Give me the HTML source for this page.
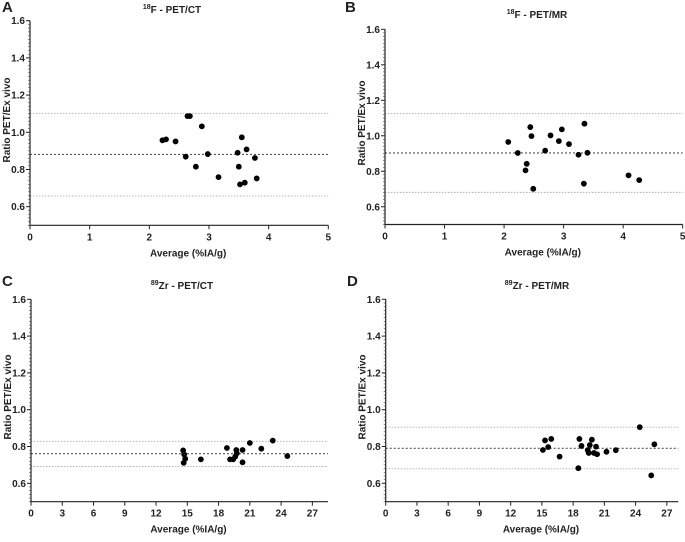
<!DOCTYPE html>
<html><head><meta charset="utf-8"><style>
body{margin:0;background:#fff;}
svg text{font-family:"Liberation Sans",Arial,sans-serif;font-weight:bold;fill:#222;}
</style></head><body>
<svg id="c" width="685" height="537" viewBox="0 0 685 537" xmlns="http://www.w3.org/2000/svg"></svg>
<script>
const xA=[2.22,2.28,2.44,2.61,2.64,2.68,2.78,2.88,2.98,3.16,3.48,3.50,3.55,3.52,3.60,3.63,3.77,3.80];
const yA=[0.957,0.962,0.951,0.869,1.087,1.087,0.815,1.032,0.883,0.759,0.890,0.815,0.973,0.720,0.729,0.908,0.862,0.752];
const linesA=[1.102,0.881,0.657];
const xB=[2.07,2.23,2.38,2.36,2.44,2.46,2.49,2.69,2.78,2.92,2.97,3.09,3.25,3.34,3.35,3.40,4.09,4.27];
const yB=[0.965,0.903,0.842,0.805,1.049,0.998,0.701,0.916,1.002,0.970,1.036,0.953,0.893,0.730,1.068,0.904,0.777,0.750];
const linesB=[1.126,0.903,0.681];
const xC=[14.6,14.7,14.8,14.65,16.3,18.8,19.1,19.4,19.6,19.7,19.75,20.3,20.3,21.0,22.1,23.2,24.6];
const yC=[0.779,0.757,0.733,0.711,0.730,0.792,0.730,0.730,0.745,0.781,0.763,0.781,0.714,0.819,0.788,0.832,0.748];
const linesC=[0.828,0.761,0.691];
const xD=[15.1,15.3,15.6,15.9,16.7,18.5,18.6,18.8,19.4,19.5,19.6,19.8,20.0,20.2,20.3,21.2,22.1,24.4,25.5,25.8];
const yD=[0.781,0.833,0.797,0.841,0.745,0.682,0.841,0.803,0.780,0.765,0.808,0.837,0.765,0.799,0.758,0.771,0.780,0.905,0.643,0.812];
const linesD=[0.905,0.790,0.679];
const yTicks=[0.6,0.8,1.0,1.2,1.4,1.6];
const xTicksF=[0,1,2,3,4,5];
const xTicksZ=[0,3,6,9,12,15,18,21,24,27];

const svg=document.getElementById('c');
const NS='http://www.w3.org/2000/svg';
function mk(tag,attrs,parent){const e=document.createElementNS(NS,tag);for(const k in attrs)e.setAttribute(k,attrs[k]);(parent||svg).appendChild(e);return e;}
function txt(s,attrs,parent){const e=mk('text',attrs,parent);e.textContent=s;return e;}

function panel(p){
  const g=mk('g',{});
  
  
  const X=v=>p.x0+(v-p.xmin)/(p.xmax-p.xmin)*(p.x1-p.x0);
  const Y=v=>p.yb+(v-0.5)/(1.1)*(p.yt-p.yb);
  const lt=txt(p.letter,{x:p.lx,y:p.ly,'font-size':15},g);
  
  
  const t=mk('text',{x:p.tx,y:p.ty,'font-size':10,'text-anchor':'middle'},g);
  
  
  const s1=document.createElementNS(NS,'tspan');s1.setAttribute('font-size','7');s1.setAttribute('dy','-4');s1.textContent=p.iso;t.appendChild(s1);
  const s2=document.createElementNS(NS,'tspan');s2.setAttribute('dy','4');s2.textContent=p.title;t.appendChild(s2);
  // reference lines
  p.lines.forEach((v,i)=>{
    const l=mk('line',{x1:p.x0,x2:p.x1,y1:Y(v),y2:Y(v),stroke:i==1?'#555':'#aaa','stroke-width':i==1?1.1:0.9,'stroke-dasharray':i==1?'2,2':'1.5,1.5'},g);
    
    
  });
  // y axis
  const ya=mk('line',{x1:p.x0,x2:p.x0,y1:p.yt,y2:p.yb,stroke:'#222','stroke-width':1.2},g);
  
  
  for(let v=0.5;v<=1.6001;v+=0.02){mk('line',{x1:p.x0-2,x2:p.x0,y1:Y(v),y2:Y(v),stroke:'#444','stroke-width':0.6},g);}
  yTicks.forEach(v=>{
    mk('line',{x1:p.x0-4,x2:p.x0,y1:Y(v),y2:Y(v),stroke:'#222','stroke-width':1},g);
    const tl=txt(v.toFixed(1),{x:p.x0-5,y:Y(v)+3.5,'font-size':10,'text-anchor':'end'},g);
    
    
  });
  const yt=txt('Ratio PET/Ex vivo',{x:0,y:0,'font-size':10,'text-anchor':'middle',transform:`translate(${p.x0-20},${p.ymid}) rotate(-90)`},g);
  
  
  // x axis
  const xa=mk('line',{x1:p.x0,x2:p.x1,y1:p.yb,y2:p.yb,stroke:'#222','stroke-width':1.2},g);
  
  
  p.xticks.forEach(v=>{
    mk('line',{x1:X(v),x2:X(v),y1:p.yb,y2:p.yb+4,stroke:'#222','stroke-width':1},g);
    const tl=txt(String(v),{x:X(v),y:p.yb+15,'font-size':10,'text-anchor':'middle'},g);
    
    
  });
  const xt=txt('Average (%IA/g)',{x:(p.x0+p.x1)/2+9,y:p.yb+31,'font-size':10,'text-anchor':'middle'},g);
  
  
  p.xs.forEach((xv,i)=>{
    const c=mk('circle',{cx:X(xv),cy:Y(p.ys[i]),r:2.9,fill:'#000'},g);
    
    
  });
}
panel({letter:'A',lx:2,ly:12,iso:'18',title:'F - PET/CT',tx:172,ty:13,x0:30,x1:328.3,xmin:0,xmax:5,yt:20.7,yb:225.3,ymid:120,xticks:xTicksF,xs:xA,ys:yA,lines:linesA});
panel({letter:'B',lx:345,ly:12,iso:'18',title:'F - PET/MR',tx:537,ty:18,x0:385,x1:682.7,xmin:0,xmax:5,yt:29.3,yb:224.5,ymid:123,xticks:xTicksF,xs:xB,ys:yB,lines:linesB});
panel({letter:'C',lx:2,ly:286,iso:'89',title:'Zr - PET/CT',tx:182,ty:289,x0:31,x1:328,xmin:0,xmax:28.5,yt:299.3,yb:501.7,ymid:397,xticks:xTicksZ,xs:xC,ys:yC,lines:linesC});
panel({letter:'D',lx:347,ly:286,iso:'89',title:'Zr - PET/MR',tx:537,ty:289,x0:385.7,x1:678.3,xmin:0,xmax:28.1,yt:299.3,yb:501.7,ymid:397,xticks:xTicksZ,xs:xD,ys:yD,lines:linesD});
</script>
</body></html>
